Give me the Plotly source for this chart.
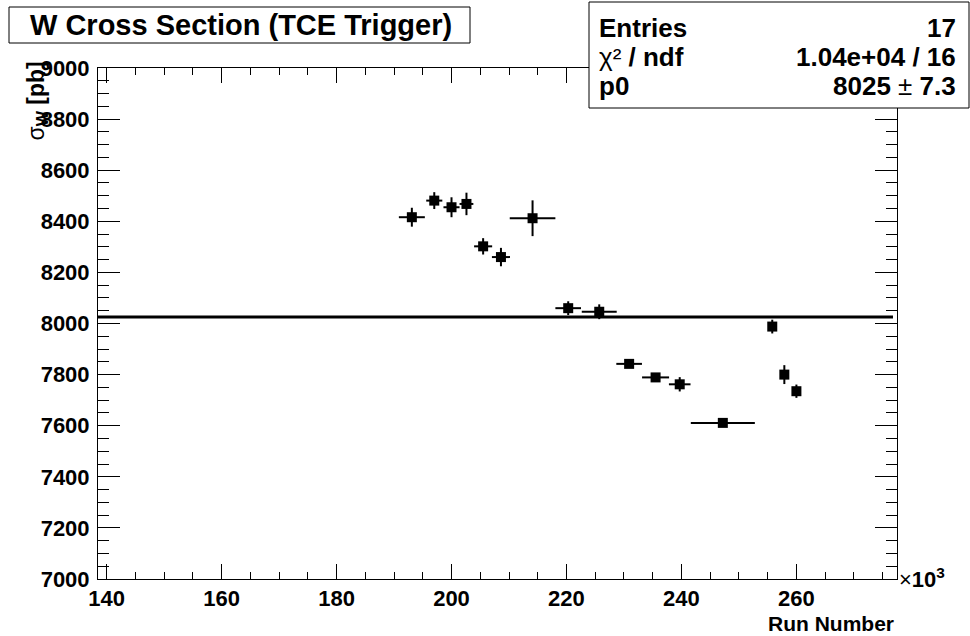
import plotly.graph_objects as go

# ---- data (run number in units of 10^3) ----
run_k = [193.1, 197.0, 200.0, 202.6, 205.5, 208.6, 214.1, 220.3, 225.7,
         230.9, 235.5, 239.7, 247.2, 255.8, 257.9, 260.0]
run_err = [2.26, 1.4, 1.4, 1.2, 1.57, 1.57, 3.97, 2.23, 3.04,
           2.23, 2.35, 1.88, 5.57, 0.5, 0.5, 0.5]
sigma_w = [8416, 8481, 8455, 8468, 8302, 8260, 8412, 8060, 8046,
           7842, 7789, 7762, 7611, 7988, 7800, 7735]
sigma_err = [37, 33, 39, 44, 32, 36, 70, 27, 29,
             15, 15, 28, 12, 27, 37, 26]

fit_p0 = 8025
fit_range = [138.5, 276.8]
x_range = [138.5, 277.5]
y_range = [7000, 9000]
x_ticks = [140, 160, 180, 200, 220, 240, 260]
y_ticks = list(range(7000, 9001, 200))

stats_labels = ["<b>Entries</b>", "χ²<b> / ndf</b>", "<b>p0</b>"]
stats_values = ["<b>17</b>", "<b>1.04e+04 / 16</b>", "<b>8025</b> ± <b>7.3</b>"]

W, H = 970, 636
L, R, T, B = 98, 73, 68, 57
PW, PH = W - L - R, H - T - B


def px(xp):
    return (xp - L) / PW


def py(yp):
    return (H - B - yp) / PH


FONT = "Liberation Sans, Arial, Helvetica, sans-serif"

fig = go.Figure()

fig.add_trace(go.Scatter(
    x=fit_range, y=[fit_p0, fit_p0], mode="lines",
    line=dict(color="black", width=3), showlegend=False, hoverinfo="skip"))

fig.add_trace(go.Scatter(
    x=run_k, y=sigma_w, mode="markers",
    marker=dict(symbol="square", size=10, color="black"),
    error_x=dict(type="data", array=run_err, color="black", thickness=2, width=0),
    error_y=dict(type="data", array=sigma_err, color="black", thickness=2, width=0),
    showlegend=False))

axis_common = dict(
    showline=True, linecolor="black", linewidth=1, mirror="allticks",
    ticks="inside", tickcolor="black", tickwidth=1,
    showgrid=False, zeroline=False,
    tickfont=dict(family=FONT, size=22, color="black", weight="bold"),
)

fig.update_xaxes(range=x_range, tickvals=x_ticks, ticklen=15,
                 minor=dict(ticks="inside", dtick=5, tick0=140, ticklen=7,
                            tickcolor="black", tickwidth=1, showgrid=False),
                 **axis_common)
fig.update_yaxes(range=y_range, tickvals=y_ticks, ticklen=22,
                 ticklabelstandoff=3,
                 minor=dict(ticks="inside", dtick=50, tick0=7000, ticklen=11,
                            tickcolor="black", tickwidth=1, showgrid=False),
                 **axis_common)

shapes = [
    # title box
    dict(type="rect", xref="paper", yref="paper",
         x0=px(9), x1=px(470), y0=py(43), y1=py(7),
         line=dict(color="black", width=1), fillcolor="white", layer="above"),
    # stats box
    dict(type="rect", xref="paper", yref="paper",
         x0=px(589), x1=px(969), y0=py(108), y1=py(2),
         line=dict(color="black", width=1), fillcolor="white", layer="above"),
]

annotations = [
    dict(text="<b>W Cross Section (TCE Trigger)</b>", xref="paper", yref="paper",
         x=px(241), y=py(25), xanchor="center", yanchor="middle", showarrow=False,
         font=dict(family=FONT, size=29, color="black")),
    dict(text="<b>Run Number</b>", xref="paper", yref="paper",
         x=px(896), y=py(623), xanchor="right", yanchor="middle", showarrow=False,
         font=dict(family=FONT, size=21, color="black")),
    dict(text="×<b>10<sup>3</sup></b>", xref="paper", yref="paper",
         x=px(897), y=py(578), xanchor="left", yanchor="middle", showarrow=False,
         font=dict(family=FONT, size=22, color="black")),
    dict(text="σ<sub><b>W</b></sub> <b>[pb]</b>", xref="paper", yref="paper",
         x=px(37), y=py(60), xanchor="center", yanchor="top", textangle=-90,
         showarrow=False, font=dict(family=FONT, size=23, color="black")),
]

row_y = [28, 57, 86]
for lab, val, yy in zip(stats_labels, stats_values, row_y):
    annotations.append(dict(text=lab,
                            xref="paper", yref="paper", x=px(597), y=py(yy),
                            xanchor="left", yanchor="middle", showarrow=False,
                            font=dict(family=FONT, size=26, color="black")))
    annotations.append(dict(text=val, xref="paper", yref="paper", x=px(958), y=py(yy),
                            xanchor="right", yanchor="middle", showarrow=False,
                            font=dict(family=FONT, size=26, color="black")))

fig.update_layout(
    width=W, height=H,
    margin=dict(l=L, r=R, t=T, b=B, pad=0),
    paper_bgcolor="white", plot_bgcolor="white",
    shapes=shapes, annotations=annotations,
    showlegend=False,
)

fig.write_html("out.html")
